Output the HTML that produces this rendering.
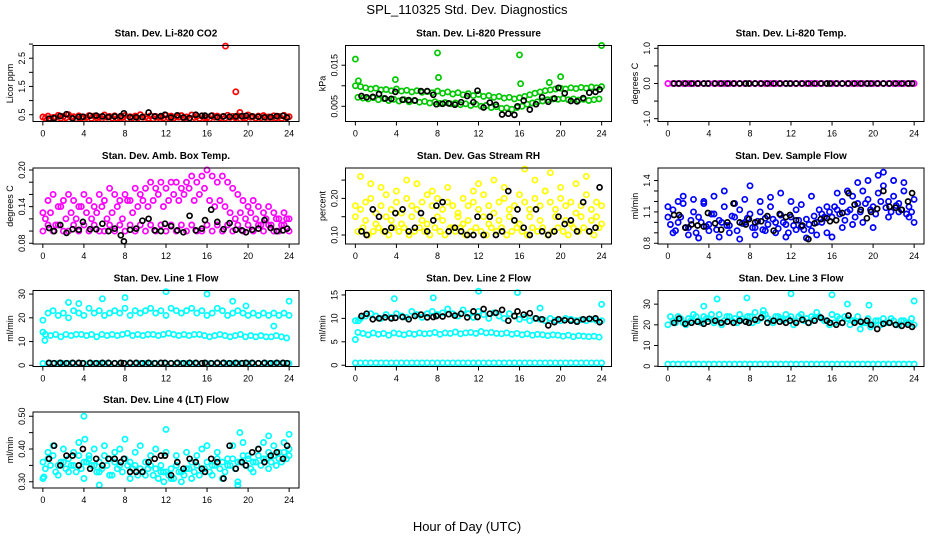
<!DOCTYPE html>
<html><head><meta charset="utf-8"><style>
html,body{margin:0;padding:0;background:#fff;}
svg{display:block;font-family:"Liberation Sans",sans-serif;}
</style></head><body>
<svg id="chart" width="936" height="540" viewBox="0 0 936 540">
<text x="467" y="14" font-size="13" text-anchor="middle">SPL_110325  Std. Dev. Diagnostics</text>
<text x="467" y="531" font-size="13" text-anchor="middle">Hour of Day (UTC)</text>
</svg>
<script>
// shared hour arrays
const hoursA = [0,0.5,1,1.5,2,2.5,3,3.5,4,4.5,5,5.5,6,6.5,7,7.5,8,8.5,9,9.5,10,10.5,11,11.5,12,12.5,13,13.5,14,14.5,15,15.5,16,16.5,17,17.5,18,18.5,19,19.5,20,20.5,21,21.5,22,22.5,23,23.5,24];
const hoursB = [0.25,0.75,1.25,1.75,2.25,2.75,3.25,3.75,4.25,4.75,5.25,5.75,6.25,6.75,7.25,7.75,8.25,8.75,9.25,9.75,10.25,10.75,11.25,11.75,12.25,12.75,13.25,13.75,14.25,14.75,15.25,15.75,16.25,16.75,17.25,17.75,18.25,18.75,19.25,19.75,20.25,20.75,21.25,21.75,22.25,22.75,23.25,23.75];
const blackHours = [0.6,1.1,1.7,2.3,2.9,3.5,3.9,4.6,5.2,5.8,6.4,7.0,7.6,7.9,8.5,9.1,9.7,10.3,10.9,11.5,11.9,12.5,13.1,13.7,14.3,14.9,15.5,15.8,16.4,17.0,17.6,18.2,18.8,19.4,19.8,20.4,21.0,21.6,22.2,22.8,23.4,23.8];
const xTicks = [0,4,8,12,16,20,24];

// Panel 1 CO2
const co2A = [0.42,0.45,0.40,0.48,0.44,0.50,0.43,0.46,0.41,0.47,0.45,0.42,0.49,0.44,0.46,0.40,0.47,0.43,0.45,0.50,0.42,0.46,0.44,0.41,0.48,0.45,0.43,0.47,0.42,0.49,0.44,0.46,0.40,0.47,0.45,0.43,0.48,0.44,0.46,0.41,0.49,0.43,0.45,0.47,0.42,0.46,0.44,0.48,0.43];
const co2B = [0.38,0.36,0.40,0.37,0.39,0.41,0.36,0.38,0.40,0.37,0.39,0.36,0.41,0.38,0.37,0.40,0.36,0.39,0.38,0.41,0.37,0.36,0.40,0.38,0.39,0.37,0.41,0.36,0.38,0.40,0.37,0.39,0.36,0.41,0.38,0.37,0.40,0.39,0.36,0.38,0.41,0.37,0.39,0.40,0.36,0.38,0.37,0.39];
const co2OutX = [17.8,18.8,19.2];
const co2OutY = [2.93,1.31,0.58];
const co2Black = [0.36,0.38,0.45,0.52,0.37,0.42,0.43,0.46,0.47,0.44,0.42,0.44,0.45,0.55,0.41,0.41,0.42,0.58,0.44,0.45,0.50,0.40,0.48,0.40,0.38,0.50,0.46,0.47,0.46,0.41,0.44,0.43,0.44,0.45,0.46,0.44,0.43,0.41,0.42,0.45,0.46,0.40];

// Panel 2 Pressure
const presA = [0.0100,0.0098,0.0095,0.0092,0.0094,0.0090,0.0091,0.0088,0.0092,0.0087,0.0089,0.0085,0.0088,0.0084,0.0086,0.0083,0.0087,0.0082,0.0085,0.0080,0.0083,0.0078,0.0081,0.0076,0.0079,0.0074,0.0076,0.0072,0.0074,0.0070,0.0072,0.0068,0.0071,0.0074,0.0078,0.0082,0.0085,0.0088,0.0090,0.0092,0.0094,0.0092,0.0095,0.0093,0.0096,0.0094,0.0097,0.0095,0.0098];
const presB = [0.0072,0.0070,0.0068,0.0071,0.0066,0.0069,0.0064,0.0067,0.0063,0.0066,0.0061,0.0064,0.0060,0.0062,0.0058,0.0061,0.0057,0.0059,0.0056,0.0058,0.0054,0.0056,0.0052,0.0055,0.0050,0.0052,0.0047,0.0049,0.0045,0.0046,0.0043,0.0047,0.0050,0.0055,0.0058,0.0061,0.0063,0.0066,0.0068,0.0067,0.0069,0.0066,0.0068,0.0065,0.0067,0.0064,0.0066,0.0068];
const presOutX = [0,8,16,24,8.1,3.9,20,16.1,0.3,18.9];
const presOutY = [0.0165,0.0180,0.0175,0.0198,0.0120,0.0115,0.0122,0.0105,0.0112,0.0108];
const presBlack = [0.0075,0.0072,0.0073,0.0080,0.0069,0.0068,0.0085,0.0066,0.0065,0.0064,0.0087,0.0087,0.0078,0.0055,0.0056,0.0057,0.0054,0.0060,0.0075,0.0060,0.0088,0.0047,0.0059,0.0054,0.0030,0.0032,0.0029,0.0050,0.0064,0.0042,0.0055,0.0072,0.0061,0.0069,0.0095,0.0082,0.0063,0.0062,0.0070,0.0083,0.0085,0.0091];

// Panel 3 Li-820 Temp
const tempA = [0,0,0,0,0,0,0,0,0,0,0,0,0,0,0,0,0,0,0,0,0,0,0,0,0,0,0,0,0,0,0,0,0,0,0,0,0,0,0,0,0,0,0,0,0,0,0,0,0];
const tempBlack = [0,0,0,0,0,0,0,0,0,0,0,0,0,0,0,0,0,0,0,0,0,0,0,0,0,0,0,0,0,0,0,0,0,0,0,0,0,0,0,0,0,0];

// Panel 4 Amb Box Temp
const ambA = [0.13,0.15,0.16,0.14,0.15,0.16,0.15,0.14,0.16,0.15,0.14,0.16,0.15,0.17,0.16,0.15,0.16,0.15,0.17,0.16,0.17,0.18,0.17,0.18,0.17,0.18,0.18,0.17,0.18,0.19,0.18,0.19,0.20,0.19,0.18,0.19,0.18,0.17,0.16,0.15,0.14,0.15,0.14,0.13,0.14,0.13,0.12,0.13,0.12];
const ambB = [0.12,0.13,0.11,0.14,0.12,0.13,0.12,0.14,0.13,0.12,0.13,0.14,0.12,0.13,0.14,0.12,0.15,0.13,0.14,0.15,0.14,0.15,0.16,0.14,0.15,0.16,0.15,0.16,0.17,0.15,0.16,0.17,0.15,0.14,0.15,0.14,0.13,0.12,0.13,0.12,0.13,0.12,0.11,0.12,0.11,0.12,0.11,0.12];
const ambC = [0.10,0.11,0.10,0.11,0.10,0.10,0.11,0.10,0.11,0.10,0.11,0.10,0.10,0.11,0.10,0.11,0.10,0.11,0.10,0.11,0.10,0.11,0.10,0.11,0.10,0.11,0.10,0.11,0.10,0.11,0.10,0.10,0.11,0.10,0.11,0.10,0.11,0.10,0.11,0.10,0.11,0.10,0.11,0.10,0.11,0.10,0.10,0.11,0.10];
const ambBlack = [0.105,0.100,0.110,0.097,0.103,0.102,0.115,0.103,0.103,0.112,0.100,0.104,0.093,0.083,0.102,0.104,0.117,0.120,0.101,0.100,0.112,0.108,0.101,0.098,0.125,0.101,0.104,0.118,0.135,0.115,0.103,0.113,0.102,0.101,0.098,0.102,0.104,0.118,0.105,0.100,0.101,0.104];

// Panel 5 Gas Stream RH
const rhA = [0.18,0.17,0.19,0.20,0.16,0.18,0.21,0.17,0.19,0.16,0.20,0.18,0.17,0.19,0.21,0.18,0.20,0.17,0.19,0.18,0.16,0.20,0.18,0.19,0.17,0.21,0.18,0.16,0.19,0.20,0.17,0.18,0.21,0.19,0.17,0.20,0.18,0.22,0.19,0.17,0.20,0.18,0.19,0.16,0.18,0.21,0.17,0.19,0.18];
const rhB = [0.11,0.12,0.10,0.11,0.12,0.11,0.10,0.12,0.11,0.12,0.10,0.11,0.12,0.11,0.10,0.12,0.11,0.10,0.12,0.11,0.12,0.10,0.11,0.12,0.11,0.10,0.12,0.11,0.12,0.10,0.11,0.12,0.11,0.10,0.12,0.11,0.12,0.10,0.11,0.12,0.11,0.10,0.12,0.11,0.12,0.11,0.10,0.12];
const rhC = [0.15,0.26,0.14,0.24,0.13,0.23,0.15,0.14,0.22,0.13,0.25,0.15,0.24,0.14,0.13,0.22,0.15,0.14,0.23,0.12,0.15,0.13,0.14,0.22,0.24,0.15,0.13,0.25,0.14,0.23,0.15,0.14,0.13,0.28,0.15,0.25,0.14,0.22,0.27,0.15,0.23,0.14,0.13,0.24,0.15,0.26,0.14,0.15,0.13];
const rhBlack = [0.11,0.10,0.17,0.15,0.11,0.12,0.16,0.17,0.11,0.12,0.16,0.11,0.14,0.18,0.19,0.11,0.12,0.11,0.10,0.10,0.15,0.10,0.15,0.10,0.11,0.22,0.14,0.17,0.12,0.10,0.17,0.11,0.10,0.11,0.15,0.13,0.14,0.11,0.19,0.11,0.12,0.23];

// Panel 6 Sample Flow
const sfA = [1.05,1.12,1.00,1.18,0.95,1.10,1.05,1.20,0.98,1.08,1.02,1.15,0.97,1.05,1.12,1.00,1.08,0.95,1.10,1.04,1.15,1.00,1.07,0.98,1.05,1.12,0.96,1.03,0.92,1.00,1.08,1.15,1.05,1.12,1.20,1.10,1.25,1.18,1.30,1.22,1.15,1.28,1.35,1.20,1.25,1.18,1.30,1.15,1.22];
const sfB = [0.98,0.92,1.05,0.95,1.02,0.90,1.00,0.96,1.08,0.93,1.00,0.97,1.06,0.92,0.99,1.04,0.95,1.01,0.93,0.98,1.03,0.94,1.00,0.90,0.97,1.02,0.93,0.98,1.06,1.12,1.05,1.10,1.15,1.08,1.02,1.12,1.05,1.10,1.18,1.12,1.08,1.20,1.14,1.10,1.16,1.12,1.08,1.10];
const sfC = [1.15,0.90,1.20,1.25,0.88,1.22,0.85,1.18,0.92,1.25,0.86,1.30,0.90,1.18,0.84,1.22,1.35,0.88,1.20,0.92,1.24,0.90,1.28,0.86,1.20,0.93,1.17,0.85,1.25,0.88,1.00,0.90,0.86,1.28,0.95,1.30,0.98,1.38,1.00,1.40,0.95,1.45,1.48,1.05,1.40,1.10,1.38,1.05,1.00];
const sfBlack = [1.07,1.07,0.95,0.98,0.97,0.96,1.09,0.99,0.93,1.00,1.18,1.00,0.98,1.03,1.00,1.01,1.06,0.92,1.08,1.05,1.07,1.02,0.97,0.84,0.99,1.03,1.04,1.01,1.02,1.09,1.28,1.17,1.12,1.04,1.10,1.13,1.30,1.15,1.14,1.12,1.20,1.28];

// Panel 7 Line 1 Flow
const l1A = [19,22,23,21,22,20,23,22,21,24,22,23,21,22,23,22,24,21,23,22,23,24,22,23,21,24,23,22,23,24,22,23,21,22,24,23,21,22,23,22,21,22,21,22,21,22,21,22,21];
const l1B = [13,12.5,13,12,13,12.5,13,13,12.5,13,12,13,12.5,13,12.5,13,13.5,12.5,13,12.5,13,13,12.5,13,13.5,13,12.5,13,12.5,13,13,12.5,12,12.5,13,12.5,12,12.5,13,12,12.5,12,12.5,12,12,12.5,12,11.5];
const l1C = [0.8,0.8,0.8,0.8,0.8,0.8,0.8,0.8,0.8,0.8,0.8,0.8,0.8,0.8,0.8,0.8,0.8,0.8,0.8,0.8,0.8,0.8,0.8,0.8,0.8,0.8,0.8,0.8,0.8,0.8,0.8,0.8,0.8,0.8,0.8,0.8,0.8,0.8,0.8,0.8,0.8,0.8,0.8,0.8,0.8,0.8,0.8,0.8,0.8];
const l1OutX = [0,0.2,2.5,3.5,5.8,8,12,16,18.5,19.8,22.5,24];
const l1OutY = [14,10.5,26.5,26,28,28.5,31,30,27,25,16.5,27];
const l1Black = [1,0.9,1,0.9,1,1,0.9,1,0.9,1,1,0.9,1,0.9,1,1,0.9,1,0.9,1,1,0.9,1,0.9,1,1,0.9,1,0.9,1,1,0.9,1,0.9,1,1,0.9,1,0.9,1,1,0.9];

// Panel 8 Line 2 Flow
const l2A = [9.5,10,10.5,11,10.5,10,10.8,10.2,11,10.5,10.2,11.5,10.8,10.2,11,11.5,10.8,11.2,12,11,10.5,11.8,11,10.2,11.5,10.8,10,11.2,10.5,10,11,10.5,9.8,10.2,9.5,10,9.8,9.5,10,9.6,9.5,10,9.8,9.5,9.7,9.5,9.8,9.6,9.5];
const l2B = [7,6.8,6.5,6.9,6.6,6.8,6.4,6.9,6.7,6.5,6.8,6.6,6.9,6.7,6.8,7,6.6,6.9,6.8,7.1,6.7,6.9,7,6.8,7.2,6.9,7,6.8,6.7,6.9,6.6,6.8,6.5,6.7,6.4,6.6,6.5,6.3,6.5,6.4,6.2,6.4,6.1,6.3,6.2,6.1,6.2,6.0];
const l2C = [0.5,0.5,0.5,0.5,0.5,0.5,0.5,0.5,0.5,0.5,0.5,0.5,0.5,0.5,0.5,0.5,0.5,0.5,0.5,0.5,0.5,0.5,0.5,0.5,0.5,0.5,0.5,0.5,0.5,0.5,0.5,0.5,0.5,0.5,0.5,0.5,0.5,0.5,0.5,0.5,0.5,0.5,0.5,0.5,0.5,0.5,0.5,0.5,0.5];
const l2OutX = [0,3.8,7.6,12,15.8,18,24,0.3];
const l2OutY = [5.5,14.2,14.4,15.8,15.5,12.2,13,9.5];
const l2Black = [10.5,11,9.8,10,10.2,10,10.1,10.3,9.8,10.5,10.8,10.2,10.3,10.5,10.4,10.9,10.6,11,10.2,11.5,10.3,12,11,11.2,11.8,9.5,10.5,11.5,10.8,11.1,10,9.8,8.5,9.2,9.8,9.6,9.5,9.3,9.8,9.9,10,9.2];

// Panel 9 Line 3 Flow
const l3A = [20,22,24,21,23,25,22,24,23,21,25,22,24,23,25,22,24,26,23,25,22,24,23,25,24,22,25,23,24,26,23,22,25,24,21,23,22,24,21,23,20,22,23,21,22,20,22,21,20];
const l3B = [24,21,23,20,22,24,21,23,25,22,20,24,22,21,23,24,21,22,25,23,21,24,22,23,20,24,22,21,23,24,22,20,21,23,24,20,22,18,21,19,22,20,21,23,20,22,21,23];
const l3C = [1,1,1,1,1,1,1,1,1,1,1,1,1,1,1,1,1,1,1,1,1,1,1,1,1,1,1,1,1,1,1,1,1,1,1,1,1,1,1,1,1,1,1,1,1,1,1,1,1];
const l3OutX = [3.5,4.8,7.7,12,16,19.6,24,9.3,17.5];
const l3OutY = [29,32.5,33,35,34.5,29.5,31.5,27,30];
const l3Black = [21,23,20.5,21,21.5,20.5,21.5,22,21,21.5,21,22,21.5,21,22.5,23.5,21,22,21.5,21,22,21,22.5,21,22,23.5,22,21,20,21,24.5,21,21.5,22,20,18,20.5,21,20,19.5,20,19];

// Panel 10 Line 4 (LT) Flow
const l4A = [0.36,0.37,0.38,0.35,0.36,0.37,0.35,0.38,0.36,0.37,0.35,0.36,0.38,0.37,0.36,0.35,0.37,0.36,0.35,0.34,0.36,0.35,0.34,0.35,0.33,0.34,0.35,0.33,0.34,0.36,0.35,0.34,0.36,0.35,0.37,0.36,0.35,0.37,0.36,0.38,0.37,0.36,0.38,0.37,0.39,0.38,0.37,0.39,0.38];
const l4B = [0.34,0.35,0.33,0.36,0.34,0.35,0.33,0.34,0.36,0.35,0.33,0.34,0.35,0.32,0.34,0.33,0.35,0.34,0.32,0.33,0.34,0.32,0.31,0.33,0.32,0.31,0.33,0.32,0.34,0.33,0.32,0.34,0.33,0.35,0.34,0.33,0.35,0.34,0.36,0.35,0.34,0.36,0.35,0.37,0.36,0.35,0.36,0.37];
const l4C = [0.31,0.39,0.41,0.32,0.40,0.33,0.39,0.42,0.31,0.38,0.40,0.33,0.41,0.32,0.39,0.40,0.43,0.31,0.39,0.41,0.32,0.38,0.40,0.33,0.39,0.31,0.38,0.30,0.39,0.31,0.38,0.40,0.41,0.32,0.39,0.31,0.37,0.41,0.30,0.42,0.38,0.33,0.40,0.42,0.34,0.41,0.39,0.42,0.40];
const l4OutX = [0.1,4,4.1,5.5,12,19.2,19,22,24,11.8];
const l4OutY = [0.315,0.50,0.43,0.29,0.46,0.45,0.29,0.44,0.445,0.30];
const l4Black = [0.37,0.41,0.35,0.38,0.38,0.35,0.40,0.34,0.37,0.35,0.37,0.37,0.36,0.37,0.33,0.33,0.33,0.36,0.37,0.38,0.38,0.32,0.36,0.34,0.37,0.36,0.34,0.33,0.37,0.36,0.31,0.41,0.34,0.36,0.35,0.39,0.40,0.36,0.38,0.39,0.37,0.41];

// tick values / labels
const co2Ticks = [0.5,1,1.5,2,2.5,3];      const co2Labels = ["0.5","","1.5","","2.5",""];
const presTicks = [0.005,0.010,0.015];    const presLabels = ["0.005","","0.015"];
const tempTicks = [-1,-0.5,0,0.5,1];      const tempLabels = ["-1.0","","0.0","","1.0"];
const ambTicks = [0.08,0.10,0.12,0.14,0.16,0.18,0.20]; const ambLabels = ["0.08","","","0.14","","","0.20"];
const rhTicks = [0.10,0.15,0.20,0.25];    const rhLabels = ["0.10","","0.20",""];
const sfTicks = [0.8,0.9,1.0,1.1,1.2,1.3,1.4]; const sfLabels = ["0.8","","","1.1","","","1.4"];
const l1Ticks = [0,10,20,30];             const l1Labels = ["0","10","20","30"];
const l2Ticks = [0,5,10,15];              const l2Labels = ["0","5","10","15"];
const l3Ticks = [0,10,20,30];             const l3Labels = ["0","10","20","30"];
const l4Ticks = [0.30,0.35,0.40,0.45,0.50]; const l4Labels = ["0.30","","0.40","","0.50"];

const panels = [
 {id:"co2", title:"Stan. Dev. Li-820 CO2", ylab:"Licor ppm", col:0,row:0, ymin:0.26,ymax:2.95, color:"#ff0000", series:[[hoursA,co2A],[hoursB,co2B],[co2OutX,co2OutY]], black:co2Black, ticks:co2Ticks, labels:co2Labels},
 {id:"pressure", title:"Stan. Dev. Li-820 Pressure", ylab:"kPa", col:1,row:0, ymin:0.0013,ymax:0.0198, color:"#00c800", series:[[hoursA,presA],[hoursB,presB],[presOutX,presOutY]], black:presBlack, ticks:presTicks, labels:presLabels},
 {id:"li820-temp", title:"Stan. Dev. Li-820 Temp.", ylab:"degrees C", col:2,row:0, ymin:-1.08,ymax:1.08, color:"#ff00ff", series:[[hoursA,tempA]], black:tempBlack, ticks:tempTicks, labels:tempLabels},
 {id:"amb-box-temp", title:"Stan. Dev. Amb. Box Temp.", ylab:"degrees C", col:0,row:1, ymin:0.0788,ymax:0.2033, color:"#ff00ff", series:[[hoursA,ambA],[hoursB,ambB],[hoursA,ambC]], black:ambBlack, ticks:ambTicks, labels:ambLabels},
 {id:"gas-stream-rh", title:"Stan. Dev. Gas Stream RH", ylab:"percent", col:1,row:1, ymin:0.0755,ymax:0.283, color:"#ffff00", series:[[hoursA,rhA],[hoursB,rhB],[hoursA,rhC]], black:rhBlack, ticks:rhTicks, labels:rhLabels},
 {id:"sample-flow", title:"Stan. Dev. Sample Flow", ylab:"ml/min", col:2,row:1, ymin:0.793,ymax:1.52, color:"#0000ff", series:[[hoursA,sfA],[hoursB,sfB],[hoursA,sfC]], black:sfBlack, ticks:sfTicks, labels:sfLabels},
 {id:"line1-flow", title:"Stan. Dev. Line 1 Flow", ylab:"ml/min", col:0,row:2, ymin:-0.5,ymax:31.5, color:"#00ffff", series:[[hoursA,l1A],[hoursB,l1B],[hoursA,l1C],[l1OutX,l1OutY]], black:l1Black, ticks:l1Ticks, labels:l1Labels},
 {id:"line2-flow", title:"Stan. Dev. Line 2 Flow", ylab:"ml/min", col:1,row:2, ymin:-0.27,ymax:15.95, color:"#00ffff", series:[[hoursA,l2A],[hoursB,l2B],[hoursA,l2C],[l2OutX,l2OutY]], black:l2Black, ticks:l2Ticks, labels:l2Labels},
 {id:"line3-flow", title:"Stan. Dev. Line 3 Flow", ylab:"ml/min", col:2,row:2, ymin:-0.15,ymax:36.6, color:"#00ffff", series:[[hoursA,l3A],[hoursB,l3B],[hoursA,l3C],[l3OutX,l3OutY]], black:l3Black, ticks:l3Ticks, labels:l3Labels},
 {id:"line4-flow", title:"Stan. Dev. Line 4 (LT) Flow", ylab:"ml/min", col:0,row:3, ymin:0.281,ymax:0.513, color:"#00ffff", series:[[hoursA,l4A],[hoursB,l4B],[hoursA,l4C],[l4OutX,l4OutY]], black:l4Black, ticks:l4Ticks, labels:l4Labels}
];

const NS = "http://www.w3.org/2000/svg";
const svg = document.getElementById("chart");
const colLeft = [33,345.5,658], rowTop = [45.5,168,290.5,412], PW = 266, PH = 76;
const XMIN = -0.96, XMAX = 24.96;
function mk(tag, attrs, parent){ const e=document.createElementNS(NS,tag); for(const k in attrs) e.setAttribute(k,attrs[k]); (parent||svg).appendChild(e); return e; }

panels.forEach(p=>{
  const L = colLeft[p.col], T = rowTop[p.row], B = T+PH, R = L+PW;
  const xs = v => L + (v-XMIN)/(XMAX-XMIN)*PW;
  const ys = v => B - (v-p.ymin)/(p.ymax-p.ymin)*PH;
  const g = mk("g",{});
  
  
  const t = mk("text",{x:L+PW/2,y:T-9,"font-size":10,"font-weight":"bold","text-anchor":"middle"},g);
  t.textContent = p.title;
  
  
  const pts = mk("g",{fill:"none","stroke-width":1.7},g);
  
  
  p.series.forEach(s=>{
    s[1].forEach((v,i)=>{
      const c = mk("circle",{cx:xs(s[0][i]).toFixed(1),cy:ys(v).toFixed(1),r:2.6,stroke:p.color},pts);
      
      
    });
  });
  p.black.forEach((v,i)=>{
    const c = mk("circle",{cx:xs(blackHours[i]).toFixed(1),cy:ys(v).toFixed(1),r:2.5,stroke:"#000"},pts);
    
    
  });
  const fr = mk("rect",{x:L,y:T,width:PW,height:PH,fill:"none",stroke:"#000","stroke-width":1},g);
  
  
  const xa = mk("g",{},g);
  
  
  xTicks.forEach(v=>{
    mk("line",{x1:xs(v),x2:xs(v),y1:B,y2:B+4,stroke:"#000"},xa);
    const tl = mk("text",{x:xs(v),y:B+15,"font-size":9,"text-anchor":"middle"},xa);
    tl.textContent = v;
    
    
  });
  const ya = mk("g",{},g);
  
  
  p.ticks.forEach((v,i)=>{
    mk("line",{x1:L-4,x2:L,y1:ys(v),y2:ys(v),stroke:"#000"},ya);
    if(p.labels[i]){
      const tl = mk("text",{x:0,y:0,"font-size":9,"text-anchor":"middle",transform:`translate(${L-8},${ys(v)}) rotate(-90)`},ya);
      tl.textContent = p.labels[i];
      
      
    }
  });
  const yt = mk("text",{x:0,y:0,"font-size":9,"text-anchor":"middle",transform:`translate(${L-20},${T+PH/2}) rotate(-90)`},g);
  yt.textContent = p.ylab;
  
  
});
</script>
</body></html>
